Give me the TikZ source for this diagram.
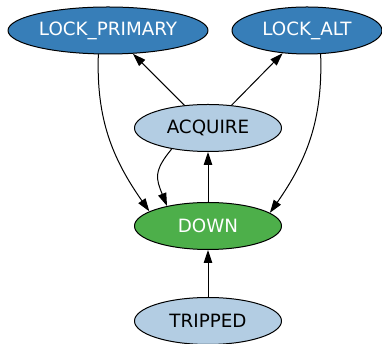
\documentclass[tikz,border=0pt]{standalone}
\usepackage{fontspec}
\setmainfont{DejaVu Sans}
\usetikzlibrary{shapes.geometric,arrows.meta}

\definecolor{lockblue}{HTML}{377EB8}
\definecolor{paleblue}{HTML}{B3CDE3}
\definecolor{downgreen}{HTML}{4DAF4A}

\begin{document}
\begin{tikzpicture}[x=1pt, y=1pt, line cap=round, line join=round,
	state/.style={ellipse, draw=black, line width=1pt, inner sep=0pt,
		minimum width=147pt, minimum height=47pt,
		font=\fontsize{18.3}{22}\selectfont},
	lockstate/.style={state, fill=lockblue, text=white},
	plainstate/.style={state, fill=paleblue, text=black},
	trans/.style={-{Triangle[length=13pt,width=8.5pt]}, line width=1pt}]
	% Bounding box dimensions
	\useasboundingbox (0,0) rectangle (382,344);
	
	% Lock states on top
	\node[lockstate, minimum width=200pt] (primary) at (108,313.5) {LOCK\_PRIMARY};
	\node[lockstate, minimum width=150pt] (alt) at (307,313.5) {LOCK\_ALT};
	
	% Middle column
	\node[plainstate] (acquire) at (208,216) {ACQUIRE};
	\node[state, fill=downgreen, text=white] (down) at (208,118) {DOWN};
	\node[plainstate] (tripped) at (208,23) {TRIPPED};
	
	% Acquire tries either lock
	\draw[trans] (acquire.136) -- (primary.-43);
	\draw[trans] (acquire.44) -- (alt.-137);
	
	% Falling back to down
	\draw[trans] (primary.-112) to[out=-92, in=125] (down.166);
	\draw[trans] (alt.-60) to[out=-88, in=55] (down.12);
	\draw[trans] (acquire.-150) to[out=-130, in=112, looseness=1.3] (down.154);
	
	% Straight transitions up the column
	\draw[trans] (down) -- (acquire);
	\draw[trans] (tripped) -- (down);
\end{tikzpicture}
\end{document}
